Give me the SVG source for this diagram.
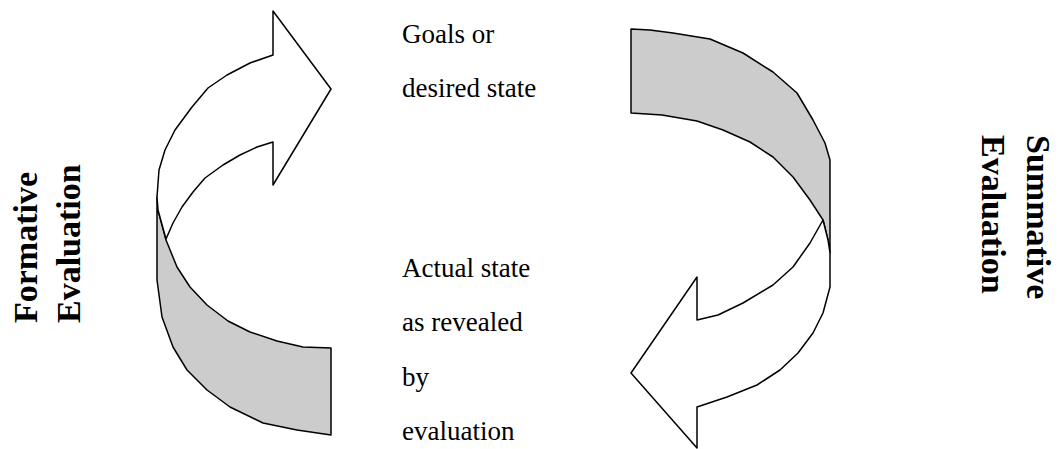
<svg xmlns="http://www.w3.org/2000/svg" width="1058" height="449" viewBox="0 0 1058 449">
<style>
.band{fill:#cccccc;stroke:#000;stroke-width:1.5;stroke-linejoin:round}
.arrow{fill:#ffffff;stroke:#000;stroke-width:1.5;stroke-linejoin:round}
text{font-family:"Liberation Serif","Times New Roman",serif}
.lbl{font-size:27px;fill:#000}
.side{font-size:34px;font-weight:bold;fill:#000}
</style>
<rect width="1058" height="449" fill="#fff"/>
<g id="connectors">
<g id="formative-arrow">
<polygon class="band" points="157,197 157,280 162,317 173,347 187,370 207,390 230,407 263,423 297,430 331,435 331,348 303,347 277,341 250,332 228,321 207,305 190,287 177,267 166,240 158,210"/>
<polygon class="arrow" points="157,197 159,170 165,150 175,130 192,107 208,88 227,75 250,63 273,55 273,11 331,89 273,185 273,142 257,147 240,155 223,165 205,178 193,192 182,207 173,223 166,239 158,210"/>
</g>
<g id="summative-arrow">
<polygon class="band" points="631,29 650,30 673,33 710,39 743,53 773,72 797,93 813,120 825,143 830,160 830,253 828,240 823,220 810,200 793,177 773,157 750,142 723,130 697,121 662,115 631,113"/>
<polygon class="arrow" points="830,253 830,287 823,313 813,333 798,353 780,370 757,385 727,397 697,407 697,448 631,373 697,277 697,320 718,315 743,303 773,285 793,267 810,243 823,220 828,240"/>
</g>
</g>
<g id="goals">
<text class="lbl" x="402" y="43">Goals or</text>
<text class="lbl" x="402" y="97">desired state</text>
</g>
<g id="actual">
<text class="lbl" x="402" y="277">Actual state</text>
<text class="lbl" x="402" y="331">as revealed</text>
<text class="lbl" x="402" y="386">by</text>
<text class="lbl" x="402" y="440">evaluation</text>
</g>
<g id="formative">
<text class="side" transform="translate(37,323) rotate(-90)">Formative</text>
<text class="side" transform="translate(80,323) rotate(-90)">Evaluation</text>
</g>
<g id="summative">
<text class="side" transform="translate(1027,135) rotate(90)">Summative</text>
<text class="side" transform="translate(982,135) rotate(90)">Evaluation</text>
</g>
</svg>
